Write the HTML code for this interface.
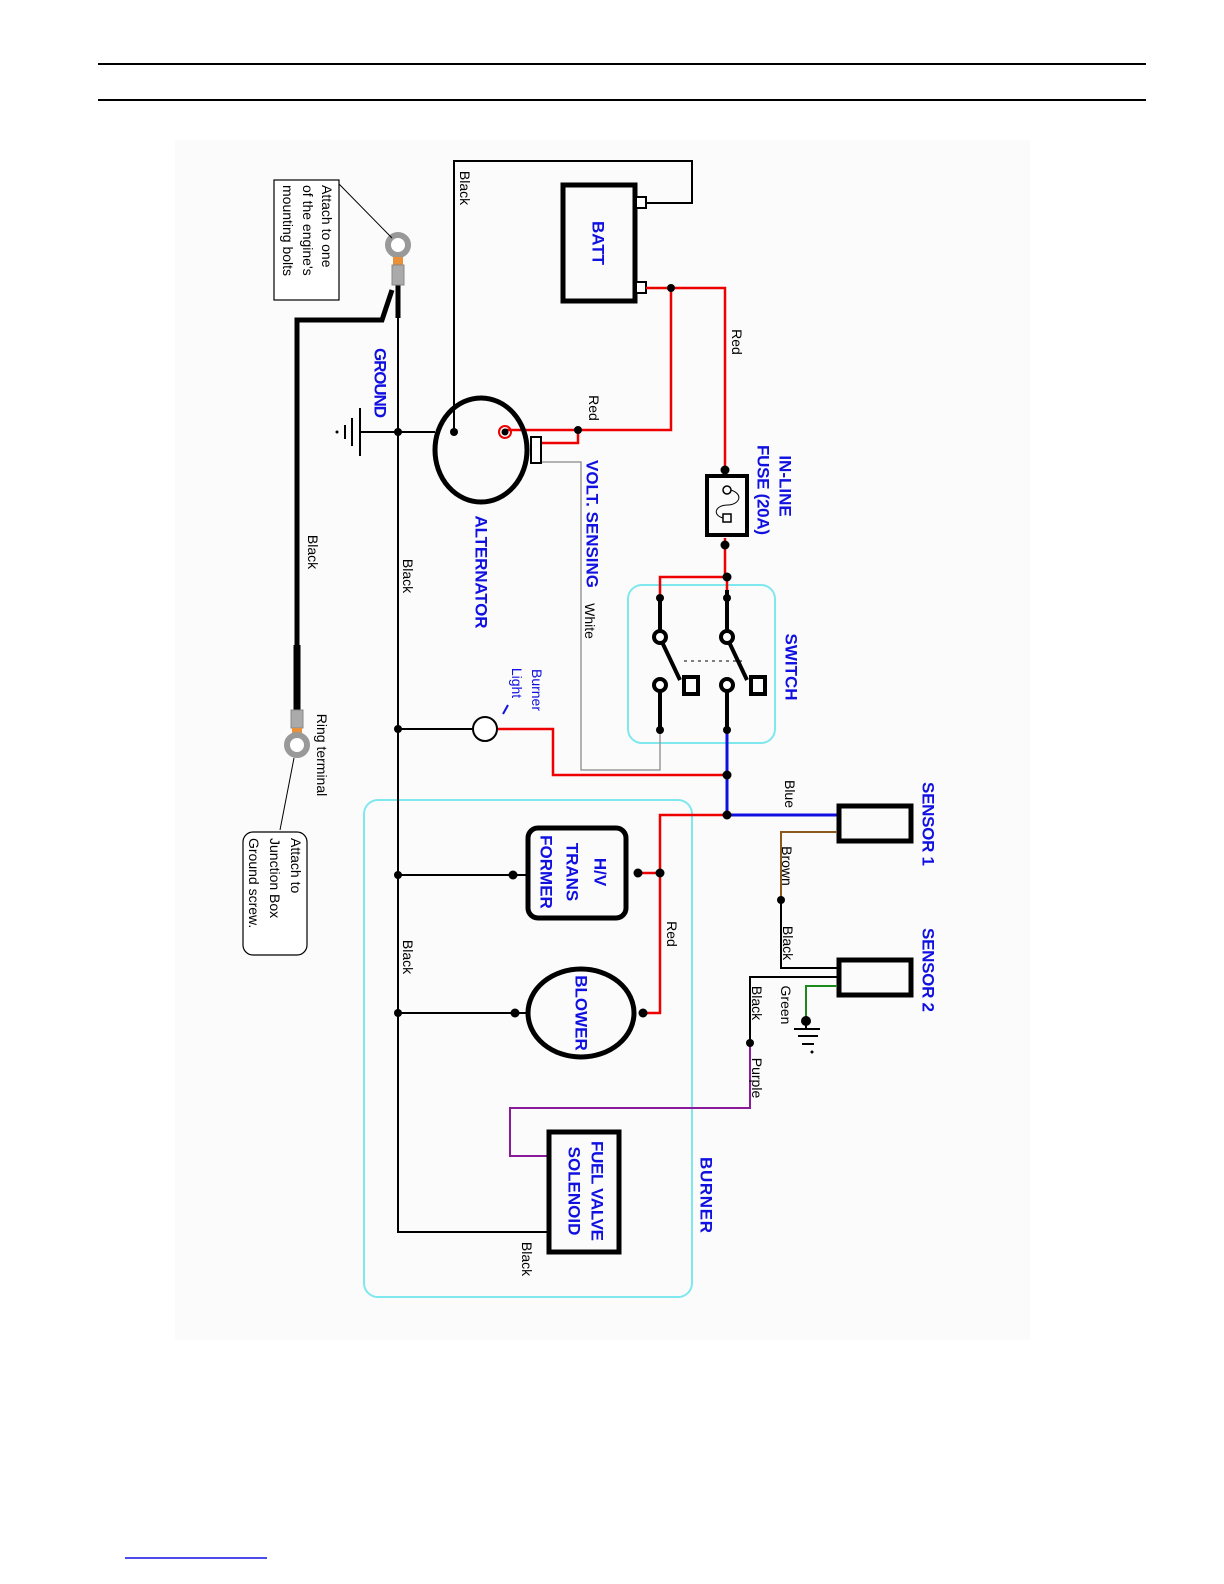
<!DOCTYPE html>
<html><head><meta charset="utf-8"><style>
html,body{margin:0;padding:0;background:#fff;width:1224px;height:1584px;overflow:hidden;}
svg{display:block;}
text{font-family:"Liberation Sans",Arial,sans-serif;}
.b{fill:#1010e0;font-weight:bold;font-size:17px;}
.k{fill:#000;font-size:14px;}
.bl{fill:#1010e0;font-size:14px;}
</style></head><body>
<svg width="1224" height="1584" viewBox="0 0 1224 1584" xmlns="http://www.w3.org/2000/svg">
<rect x="175" y="140" width="855" height="1200" fill="#fbfbfb"/>
<line x1="98" y1="64" x2="1146" y2="64" stroke="#000" stroke-width="2"/>
<line x1="98" y1="100" x2="1146" y2="100" stroke="#000" stroke-width="2"/>
<line x1="125" y1="1558" x2="267" y2="1558" stroke="#1010e0" stroke-width="1.5"/>

<g fill="none" stroke-linejoin="miter">
<rect x="628" y="585" width="147" height="158" rx="14" stroke="#7fe8ee" stroke-width="2"/>
<rect x="364" y="800" width="328" height="497" rx="14" stroke="#7fe8ee" stroke-width="2"/>

<rect x="563" y="185" width="72" height="116" stroke="#000" stroke-width="5"/>
<rect x="636" y="197" width="10" height="11" stroke="#000" stroke-width="2" fill="#fff"/>
<rect x="636" y="282" width="10" height="11" stroke="#000" stroke-width="2" fill="#fff"/>
<polyline points="646,203 692,203 692,161 454,161 454,432" stroke="#000" stroke-width="2"/>

<polyline points="646,288 725,288 725,470" stroke="#e00" stroke-width="2.5"/>
<polyline points="671,288 671,430 505,430" stroke="#e00" stroke-width="2.5"/>
<polyline points="578,430 578,443 541,443" stroke="#e00" stroke-width="2.5"/>
<circle cx="505" cy="432" r="6" stroke="#e00" stroke-width="2"/>
<polyline points="725,538 725,577" stroke="#e00" stroke-width="2.5"/>
<polyline points="725,577 660,577 660,598" stroke="#e00" stroke-width="2.5"/>
<polyline points="497,729 553,729 553,775 727,775" stroke="#e00" stroke-width="2.5"/>
<polyline points="727,815 660,815 660,1013 643,1013" stroke="#e00" stroke-width="2.5"/>
<line x1="638" y1="873" x2="660" y2="873" stroke="#e00" stroke-width="2.5"/>

<polyline points="541,462 581,462 581,770 660,770 660,730" stroke="#999" stroke-width="1.5"/>

<ellipse cx="481" cy="450" rx="46" ry="52" stroke="#000" stroke-width="5"/>
<rect x="531" y="437" width="10" height="26" stroke="#000" stroke-width="2" fill="#fff"/>
<line x1="360" y1="432" x2="435" y2="432" stroke="#000" stroke-width="2"/>
<line x1="360" y1="408" x2="360" y2="456" stroke="#000" stroke-width="2"/>
<line x1="352" y1="418" x2="352" y2="446" stroke="#000" stroke-width="2"/>
<line x1="345" y1="425" x2="345" y2="439" stroke="#000" stroke-width="2"/>

<polyline points="398,290 398,1232 547,1232" stroke="#000" stroke-width="2"/>
<line x1="398" y1="729" x2="473" y2="729" stroke="#000" stroke-width="2"/>
<line x1="398" y1="875" x2="527" y2="875" stroke="#000" stroke-width="2"/>
<line x1="398" y1="1013" x2="527" y2="1013" stroke="#000" stroke-width="2"/>
<line x1="398" y1="285" x2="398" y2="318" stroke="#000" stroke-width="5"/>
<polyline points="392,290 382,320 297,320 297,645" stroke="#000" stroke-width="5"/>
<line x1="297" y1="645" x2="297" y2="710" stroke="#000" stroke-width="7"/>

<circle cx="398" cy="245" r="10" stroke="#999" stroke-width="6" fill="#fff"/>
<rect x="393" y="257" width="10" height="8" fill="#e8903a" stroke="none"/>
<rect x="392" y="265" width="12" height="20" fill="#aaa" stroke="#888" stroke-width="1"/>
<rect x="291" y="710" width="12" height="18" fill="#aaa" stroke="#888" stroke-width="1"/>
<rect x="292" y="728" width="10" height="6" fill="#e8903a" stroke="none"/>
<circle cx="297" cy="745" r="10" stroke="#999" stroke-width="6" fill="#fff"/>

<rect x="274" y="180" width="65" height="120" stroke="#000" stroke-width="1.2" fill="#fff"/>
<line x1="339" y1="184" x2="392" y2="238" stroke="#000" stroke-width="1"/>
<rect x="243" y="832" width="64" height="123" rx="10" stroke="#000" stroke-width="1.2" fill="#fff"/>
<line x1="280" y1="830" x2="294" y2="758" stroke="#000" stroke-width="1"/>

<rect x="707" y="476" width="40" height="59" stroke="#000" stroke-width="4"/>
<circle cx="727" cy="490" r="4" stroke="#000" stroke-width="1.5"/>
<rect x="723" y="514" width="8" height="8" stroke="#000" stroke-width="1.5"/>
<path d="M731,490 C745,495 738,505 728,505 C715,505 712,515 723,518" stroke="#000" stroke-width="1"/>

<line x1="727" y1="577" x2="727" y2="590" stroke="#e00" stroke-width="2.5"/>
<line x1="727" y1="590" x2="727" y2="632" stroke="#000" stroke-width="4"/>
<line x1="660" y1="598" x2="660" y2="632" stroke="#000" stroke-width="4"/>
<line x1="729" y1="642" x2="747" y2="680" stroke="#000" stroke-width="4"/>
<line x1="662" y1="642" x2="680" y2="680" stroke="#000" stroke-width="4"/>
<line x1="684" y1="661" x2="742" y2="661" stroke="#000" stroke-width="1" stroke-dasharray="3,4"/>
<rect x="751" y="677" width="14" height="17" stroke="#000" stroke-width="4"/>
<rect x="684" y="677" width="14" height="17" stroke="#000" stroke-width="4"/>
<circle cx="727" cy="637" r="6" stroke="#000" stroke-width="4" fill="#fff"/>
<circle cx="660" cy="637" r="6" stroke="#000" stroke-width="4" fill="#fff"/>
<circle cx="727" cy="685" r="6" stroke="#000" stroke-width="4" fill="#fff"/>
<circle cx="660" cy="685" r="6" stroke="#000" stroke-width="4" fill="#fff"/>
<line x1="727" y1="692" x2="727" y2="730" stroke="#000" stroke-width="4"/>
<line x1="660" y1="692" x2="660" y2="730" stroke="#000" stroke-width="4"/>

<polyline points="727,730 727,815 837,815" stroke="#1010e0" stroke-width="3"/>

<circle cx="485" cy="729" r="12" stroke="#000" stroke-width="2" fill="#fff"/>
<line x1="503" y1="714" x2="508" y2="705" stroke="#1010e0" stroke-width="2"/>

<rect x="839" y="806" width="72" height="35" stroke="#000" stroke-width="5"/>
<rect x="839" y="960" width="72" height="35" stroke="#000" stroke-width="5"/>
<polyline points="837,832 781,832 781,900" stroke="#8b5a1a" stroke-width="2"/>
<polyline points="781,900 781,968 837,968" stroke="#000" stroke-width="2"/>
<polyline points="837,977 750,977 750,1043" stroke="#000" stroke-width="2"/>
<polyline points="750,1043 750,1108 510,1108 510,1156 547,1156" stroke="#8a1a9a" stroke-width="2"/>
<polyline points="837,986 806,986 806,1021" stroke="#1a8a1a" stroke-width="2"/>
<line x1="806" y1="1021" x2="806" y2="1028" stroke="#000" stroke-width="2"/>
<line x1="794" y1="1029" x2="820" y2="1029" stroke="#000" stroke-width="2"/>
<line x1="798" y1="1036" x2="818" y2="1036" stroke="#000" stroke-width="2"/>
<line x1="802" y1="1044" x2="814" y2="1044" stroke="#000" stroke-width="2"/>

<rect x="528" y="828" width="98" height="90" rx="10" stroke="#000" stroke-width="5"/>
<ellipse cx="581" cy="1013" rx="53" ry="44" stroke="#000" stroke-width="5"/>
<rect x="549" y="1132" width="70" height="120" stroke="#000" stroke-width="5"/>
</g>

<g fill="#000">
<circle cx="671" cy="288" r="4"/><circle cx="578" cy="430" r="4"/><circle cx="505" cy="432" r="3.5"/>
<circle cx="454" cy="432" r="4"/><circle cx="398" cy="432" r="4"/><circle cx="337" cy="432" r="1.5"/>
<circle cx="725" cy="470" r="4.5"/><circle cx="725" cy="545" r="4.5"/><circle cx="727" cy="577" r="4.5"/>
<circle cx="660" cy="598" r="4"/><circle cx="727" cy="598" r="4"/><circle cx="660" cy="730" r="4"/><circle cx="727" cy="730" r="4"/>
<circle cx="727" cy="775" r="4.5"/><circle cx="727" cy="815" r="4.5"/>
<circle cx="398" cy="729" r="4"/><circle cx="398" cy="875" r="4"/><circle cx="398" cy="1013" r="4"/>
<circle cx="513" cy="875" r="4.5"/><circle cx="638" cy="873" r="4.5"/><circle cx="660" cy="873" r="4.5"/>
<circle cx="515" cy="1013" r="4.5"/><circle cx="643" cy="1013" r="4.5"/>
<circle cx="781" cy="900" r="4"/><circle cx="750" cy="1043" r="4"/><circle cx="806" cy="1021" r="5"/>
<circle cx="812" cy="1052" r="1.5"/>
</g>

<g dominant-baseline="central">
<text class="b" transform="translate(598,243) rotate(90)" text-anchor="middle">BATT</text>
<text class="b" transform="translate(380,383) rotate(90)" text-anchor="middle" textLength="70">GROUND</text>
<text class="b" transform="translate(481,572) rotate(90)" text-anchor="middle" textLength="113">ALTERNATOR</text>
<text class="b" transform="translate(592,524) rotate(90)" text-anchor="middle" textLength="128">VOLT. SENSING</text>
<text class="k" transform="translate(590,621) rotate(90)" text-anchor="middle">White</text>
<text class="b" transform="translate(785,486) rotate(90)" text-anchor="middle">IN-LINE</text>
<text class="b" transform="translate(763,490) rotate(90)" text-anchor="middle" textLength="90">FUSE (20A)</text>
<text class="b" transform="translate(791,667) rotate(90)" text-anchor="middle">SWITCH</text>
<text class="bl" transform="translate(537,690) rotate(90)" text-anchor="middle">Burner</text>
<text class="bl" transform="translate(517,683) rotate(90)" text-anchor="middle">Light</text>
<text class="b" transform="translate(928,824) rotate(90)" text-anchor="middle" textLength="84">SENSOR 1</text>
<text class="b" transform="translate(928,970) rotate(90)" text-anchor="middle" textLength="84">SENSOR 2</text>
<text class="b" transform="translate(706,1195) rotate(90)" text-anchor="middle" textLength="76">BURNER</text>
<text class="b" transform="translate(600,872) rotate(90)" text-anchor="middle">H/V</text>
<text class="b" transform="translate(572,872) rotate(90)" text-anchor="middle">TRANS</text>
<text class="b" transform="translate(546,872) rotate(90)" text-anchor="middle">FORMER</text>
<text class="b" transform="translate(581,1013) rotate(90)" text-anchor="middle">BLOWER</text>
<text class="b" transform="translate(597,1191) rotate(90)" text-anchor="middle" textLength="100">FUEL VALVE</text>
<text class="b" transform="translate(574,1191) rotate(90)" text-anchor="middle">SOLENOID</text>

<text class="k" transform="translate(465,188) rotate(90)" text-anchor="middle">Black</text>
<text class="k" transform="translate(737,342) rotate(90)" text-anchor="middle">Red</text>
<text class="k" transform="translate(594,408) rotate(90)" text-anchor="middle">Red</text>
<text class="k" transform="translate(313,552) rotate(90)" text-anchor="middle">Black</text>
<text class="k" transform="translate(408,576) rotate(90)" text-anchor="middle">Black</text>
<text class="k" transform="translate(408,957) rotate(90)" text-anchor="middle">Black</text>
<text class="k" transform="translate(527,1259) rotate(90)" text-anchor="middle">Black</text>
<text class="k" transform="translate(672,934) rotate(90)" text-anchor="middle">Red</text>
<text class="k" transform="translate(790,794) rotate(90)" text-anchor="middle">Blue</text>
<text class="k" transform="translate(787,866) rotate(90)" text-anchor="middle">Brown</text>
<text class="k" transform="translate(788,943) rotate(90)" text-anchor="middle">Black</text>
<text class="k" transform="translate(786,1005) rotate(90)" text-anchor="middle">Green</text>
<text class="k" transform="translate(757,1003) rotate(90)" text-anchor="middle">Black</text>
<text class="k" transform="translate(757,1078) rotate(90)" text-anchor="middle">Purple</text>
<text class="k" transform="translate(322,755) rotate(90)" text-anchor="middle">Ring terminal</text>

<text class="k" transform="translate(327,185) rotate(90)">Attach to one</text>
<text class="k" transform="translate(308,185) rotate(90)">of the engine's</text>
<text class="k" transform="translate(288,185) rotate(90)">mounting bolts</text>
<text class="k" transform="translate(296,838) rotate(90)">Attach to</text>
<text class="k" transform="translate(275,838) rotate(90)">Junction Box</text>
<text class="k" transform="translate(254,838) rotate(90)">Ground screw.</text>
</g>
</svg>
</body></html>
